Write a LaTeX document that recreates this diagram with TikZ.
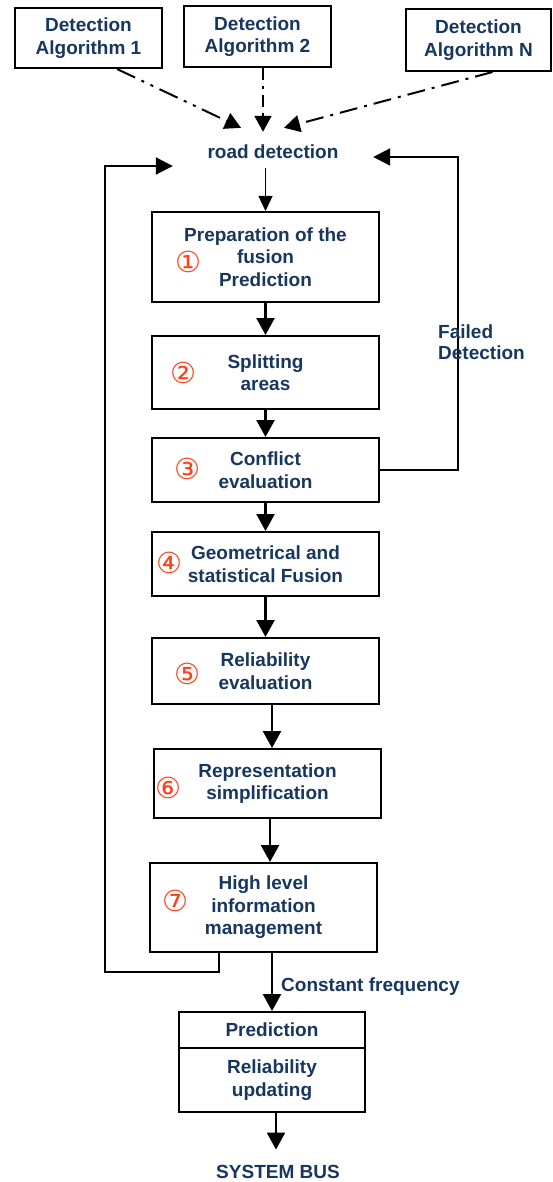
\documentclass[tikz,border=0pt]{standalone}
\usepackage{fontspec}
\setmainfont{Liberation Sans}
\newfontfamily\symfont{DejaVu Sans}
\usetikzlibrary{arrows.meta,calc}
\definecolor{txtblue}{RGB}{23,55,94}
\definecolor{numred}{RGB}{255,64,25}

\begin{document}
\begin{tikzpicture}[x=1pt,y=-1pt,
  every node/.style={font=\fontsize{19}{22.5}\selectfont\bfseries, text=txtblue},
  box/.style={draw=black, line width=2pt, align=center, inner sep=0pt},
  num/.style={font=\symfont\fontsize{29}{29}\selectfont, text=numred, inner sep=0pt},
  flow/.style={draw=black, line width=2.5pt, -{Triangle[length=17pt,width=18pt]}},
  thinflow/.style={draw=black, line width=1.2pt, -{Triangle[length=15pt,width=14pt]}},
  fb/.style={draw=black, line width=2pt, -{Triangle[length=17pt,width=17pt]}},
  src/.style={draw=black, line width=2pt, -{Triangle[length=16pt,width=17pt]}},
  dashdotdot/.style={dash pattern=on 20pt off 7pt on 3pt off 7pt on 3pt off 7pt},
  dashdotA/.style={dash pattern=on 12pt off 6pt on 3pt off 6pt},
  dashdotB/.style={dash pattern=on 18pt off 7pt on 3pt off 7pt},
]
\useasboundingbox[fill=white] (0,0) rectangle (553,1182);

% detection algorithms
\node[box, minimum width=147pt, minimum height=60pt] (A1) at (88.5,38) {Detection\\Algorithm 1};
\node[box, minimum width=147pt, minimum height=61pt] (A2) at (257.5,36.5) {Detection\\Algorithm 2};
\node[box, minimum width=145pt, minimum height=62pt] (AN) at (478.5,40) {Detection\\Algorithm N};

% fusion input
\node[minimum width=200pt, minimum height=32pt, inner sep=0pt] (road) at (273,152) {road detection};

% processing chain
\node[box, minimum width=227pt, minimum height=90pt] (B1) at (265.5,257) {Preparation of the\\fusion\\Prediction};
\node[box, minimum width=227pt, minimum height=73pt] (B2) at (265.5,372.5) {Splitting\\areas};
\node[box, minimum width=227pt, minimum height=64pt] (B3) at (265.5,470) {Conflict\\evaluation};
\node[box, minimum width=227pt, minimum height=64pt] (B4) at (265.5,564) {Geometrical and\\statistical Fusion};
\node[box, minimum width=227pt, minimum height=66pt] (B5) at (265.5,671) {Reliability\\evaluation};
\node[box, minimum width=227pt, minimum height=69pt] (B6) at (267.5,783.5) {Representation\\simplification};
\node[box, minimum width=227pt, minimum height=89pt] (B7) at (263.5,907.5) {High level\\information\\management};
\node[box, minimum width=186pt, minimum height=36pt] (Pred) at (272,1030) {Prediction};
\node[box, minimum width=186pt, minimum height=64pt] (Rel) at (272,1080) {Reliability\\updating};
\node[text height=13.5pt, text depth=0pt, inner xsep=0pt, inner ysep=15.5pt] (bus) at (278,1172) {SYSTEM BUS};

% step numbers
\node[num] (n1) at (188,262) {①};
\node[num] (n2) at (183,373) {②};
\node[num] (n3) at (187,469) {③};
\node[num] (n4) at (169,563) {④};
\node[num] (n5) at (187,674) {⑤};
\node[num] (n6) at (168,788) {⑥};
\node[num] (n7) at (175,901) {⑦};

% inputs from the detection algorithms
\draw[src, dashdotdot] ([xshift=28.5pt]A1.south) -- ([xshift=-32pt,yshift=8pt]road.north);
\draw[src, dashdotA] ([xshift=5.5pt]A2.south) -- ([xshift=-10pt,yshift=4pt]road.north);
\draw[src, dashdotB] ([xshift=14pt]AN.south) -- ([xshift=11pt,yshift=8pt]road.north);

% main flow
\draw[thinflow] (B1.north |- road.south) -- (B1.north);
\draw[flow] (B1.south) -- (B2.north);
\draw[flow] (B2.south) -- (B3.north);
\draw[flow] (B3.south) -- (B4.north);
\draw[flow] (B4.south) -- (B5.north);
\draw[flow] ([xshift=6.5pt]B5.south) -- ([xshift=4.5pt]B6.north);
\draw[flow] ([xshift=2.5pt]B6.south) -- ([xshift=6.5pt]B7.north);
\draw[flow] ([xshift=8.5pt]B7.south) -- (Pred.north);
\draw[flow] ([xshift=4pt]Rel.south) -- ([xshift=4pt]Rel.south |- bus.north);

% feedback loops
\coordinate (lc) at (105,972);
\coordinate (rc) at (458,157);
\draw[fb] ([xshift=-44.5pt]B7.south) |- (lc) |- ([yshift=-14pt]road.west);
\draw[fb] (B3.east) -| (rc) -- ([yshift=-5pt]road.east);

% labels
\node[anchor=west, align=left, inner sep=0pt, font=\fontsize{19}{21}\selectfont\bfseries] (fail) at (438,342.5) {Failed\\Detection};
\node[anchor=west, inner sep=0pt] (freq) at (281,987) {Constant frequency};
\end{tikzpicture}
\end{document}
